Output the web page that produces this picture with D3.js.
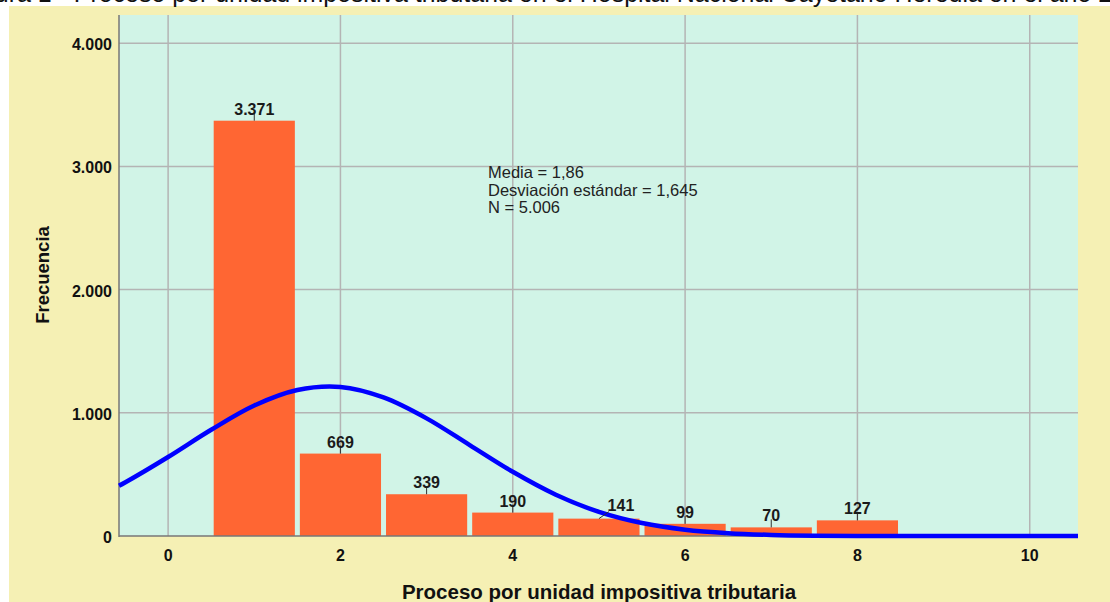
<!DOCTYPE html>
<html><head><meta charset="utf-8">
<script src="https://cdn.jsdelivr.net/npm/d3@7"></script>
<style>
html,body{margin:0;padding:0;background:#fff;overflow:hidden;}
svg{display:block;font-family:"Liberation Sans",Arial,sans-serif;}
</style></head>
<body>
<svg id="chart" width="1110" height="602"></svg>
<script>
// ---- data ----
const binCenters = [1, 2, 3, 4, 5, 6, 7, 8];
const frequencies = [3371, 669, 339, 190, 141, 99, 70, 127];
const freqLabels = ["3.371", "669", "339", "190", "141", "99", "70", "127"];
const xTicks = [0, 2, 4, 6, 8, 10];
const yTicks = [0, 1000, 2000, 3000, 4000];
const yTickLabels = ["0", "1.000", "2.000", "3.000", "4.000"];
// normal curve (x, frequency)
const curveX = [-0.57, -0.5, 0, 0.5, 1, 1.5, 2, 2.5, 3, 3.5, 4, 4.5, 5, 5.5, 6, 6.5, 7, 7.5, 8, 8.5, 9, 9.5, 10, 10.56];
const curveY = [408, 434, 641, 862, 1059, 1185, 1210, 1125, 955, 738, 521, 335, 196, 105, 51, 23, 9, 3, 1, 0, 0, 0, 0, 0];
const statsLines = ["Media = 1,86", "Desviación estándar = 1,645", "N = 5.006"];
const titleText = "Figura 1 - Proceso por unidad impositiva tributaria en el Hospital Nacional Cayetano Heredia en el año 20";
const xTitle = "Proceso por unidad impositiva tributaria";
const yTitle = "Frecuencia";

// ---- layout ----
const svg = d3.select("#chart");
const plot = {left: 119, top: 15, right: 1078, bottom: 536};
const x = d3.scaleLinear().domain([-0.57, 10.56]).range([plot.left, plot.right]);
const y = d3.scaleLinear().domain([0, 4229]).range([plot.bottom, plot.top]);

// backgrounds
svg.append("rect").attr("x", 9).attr("y", 6).attr("width", 1101).attr("height", 596).attr("fill", "#f5f0b4");
svg.append("rect").attr("x", plot.left).attr("y", plot.top)
  .attr("width", plot.right - plot.left).attr("height", plot.bottom - plot.top).attr("fill", "#d1f4e7");

// title (cut off at the top, as in the reference)
const title = svg.append("text").attr("y", 2).attr("font-size", 18).attr("fill", "#111").text(titleText);
const pre = svg.append("text").attr("font-size", 18).text("Figura 1 - ");
const preW = pre.node().getComputedTextLength(); pre.remove();
const fullW = title.node().getComputedTextLength();
const restW = fullW - preW;
const fs = 18 * 1060 / restW;
title.attr("font-size", fs).attr("x", 67 - preW * fs / 18);

// grid
const g = svg.append("g");
g.selectAll(".vg").data(xTicks).join("line")
  .attr("x1", d => x(d)).attr("x2", d => x(d)).attr("y1", plot.top).attr("y2", plot.bottom)
  .attr("stroke", "#b4b4b4").attr("stroke-width", 1.5);
g.selectAll(".hg").data(yTicks.filter(d => d > 0)).join("line")
  .attr("x1", plot.left).attr("x2", plot.right).attr("y1", d => y(d)).attr("y2", d => y(d))
  .attr("stroke", "#b4b4b4").attr("stroke-width", 1.5);

// bars
const data = binCenters.map((c, i) => ({c, v: frequencies[i], label: freqLabels[i]}));
svg.append("g").selectAll("rect").data(data).join("rect")
  .attr("x", d => x(d.c - 0.5) + 2.5).attr("width", d => x(d.c + 0.5) - x(d.c - 0.5) - 5)
  .attr("y", d => y(d.v)).attr("height", d => plot.bottom - y(d.v))
  .attr("fill", "#ff6633");

// axes lines
svg.append("line").attr("x1", plot.left).attr("x2", plot.left).attr("y1", plot.top).attr("y2", plot.bottom + 1)
  .attr("stroke", "#777").attr("stroke-width", 1.5);
svg.append("line").attr("x1", plot.left).attr("x2", plot.right).attr("y1", plot.bottom).attr("y2", plot.bottom)
  .attr("stroke", "#777").attr("stroke-width", 1.5);

// normal curve
const pts = curveX.map((v, i) => [v, curveY[i]]);
svg.append("path").datum(pts)
  .attr("d", d3.line().x(d => x(d[0])).y(d => y(d[1])).curve(d3.curveCatmullRom.alpha(0.5)))
  .attr("fill", "none").attr("stroke", "#0000ff").attr("stroke-width", 4.5);

// data labels
const lab = svg.append("g").attr("font-size", 16).attr("font-weight", "bold").attr("fill", "#1a1a1a").attr("text-anchor", "middle");
data.forEach(d => {
  const bx = x(d.c), by = y(d.v);
  const shifted = d.c === 5;
  const lx = shifted ? bx + 22 : bx;
  if (shifted) {
    lab.append("line").attr("x1", bx).attr("y1", by).attr("x2", bx + 10).attr("y2", by - 7)
      .attr("stroke", "#333").attr("stroke-width", 1);
  } else {
    lab.append("line").attr("x1", bx).attr("y1", by).attr("x2", bx).attr("y2", by - 8)
      .attr("stroke", "#333").attr("stroke-width", 1);
  }
  lab.append("text").attr("x", lx).attr("y", shifted ? by - 8 : by - 6).text(d.label);
});

// tick labels
svg.append("g").selectAll("text").data(yTicks).join("text")
  .attr("x", 112).attr("y", d => y(d) + 7).attr("text-anchor", "end")
  .attr("font-size", 16).attr("font-weight", "bold").attr("fill", "#111")
  .text((d, i) => yTickLabels[i]);
svg.append("g").selectAll("text").data(xTicks).join("text")
  .attr("x", d => x(d)).attr("y", 561).attr("text-anchor", "middle")
  .attr("font-size", 16).attr("font-weight", "bold").attr("fill", "#111")
  .text(d => d);

// stats text
svg.append("g").selectAll("text").data(statsLines).join("text")
  .attr("x", 488).attr("y", (d, i) => 178 + i * 17.5)
  .attr("font-size", 16.5).attr("fill", "#222").text(d => d);

// axis titles
svg.append("text").attr("x", 599).attr("y", 599).attr("text-anchor", "middle")
  .attr("font-size", 20.5).attr("font-weight", "bold").attr("fill", "#111").text(xTitle);
svg.append("text").attr("transform", "translate(49,275) rotate(-90)").attr("text-anchor", "middle")
  .attr("font-size", 18.5).attr("font-weight", "bold").attr("fill", "#111").text(yTitle);
</script>
</body></html>
